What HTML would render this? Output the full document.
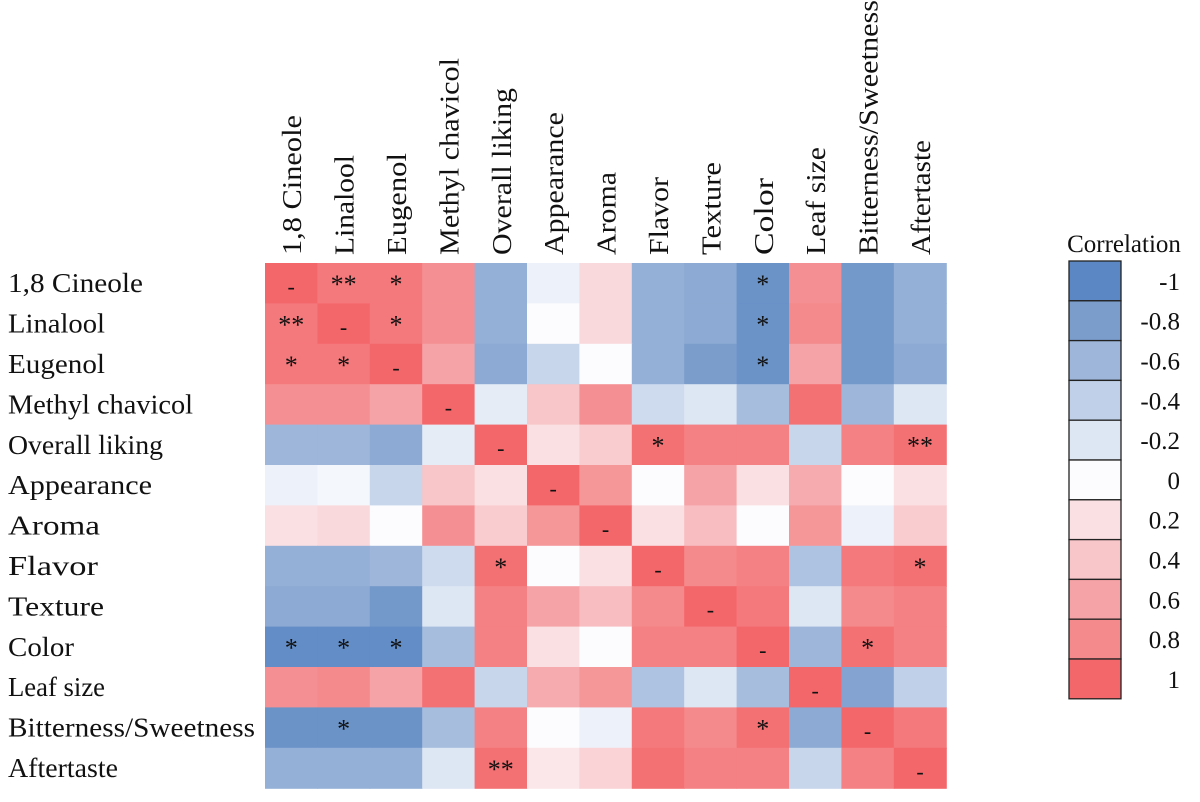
<!DOCTYPE html>
<html><head><meta charset="utf-8"><style>
html,body{margin:0;padding:0;background:#fff;width:1200px;height:802px;overflow:hidden}
svg text{font-family:"Liberation Serif",serif;fill:#111}
</style></head><body>
<svg id="chart" width="1200" height="802" xmlns="http://www.w3.org/2000/svg"></svg>
<script>
const categories=["1,8 Cineole","Linalool","Eugenol","Methyl chavicol","Overall liking","Appearance","Aroma","Flavor","Texture","Color","Leaf size","Bitterness/Sweetness","Aftertaste"];
const row0=[1,.9,.9,.75,-.65,-.1,.25,-.65,-.7,-.9,.75,-.85,-.65];
const row1=[.9,1,.9,.75,-.65,0,.25,-.65,-.7,-.9,.8,-.85,-.65];
const row2=[.9,.9,1,.6,-.7,-.35,0,-.65,-.8,-.9,.6,-.85,-.7];
const row3=[.75,.75,.6,1,-.15,.4,.75,-.3,-.2,-.55,.95,-.6,-.2];
const row4=[-.6,-.6,-.7,-.15,1,.2,.35,.95,.85,.85,-.35,.85,.95];
const row5=[-.1,-.05,-.35,.4,.2,1,.7,0,.6,.2,.55,0,.2];
const row6=[.2,.25,0,.75,.35,.7,1,.2,.45,0,.7,-.1,.35];
const row7=[-.65,-.65,-.6,-.3,.95,0,.2,1,.8,.85,-.5,.9,.95];
const row8=[-.7,-.7,-.85,-.2,.85,.6,.45,.8,1,.9,-.2,.8,.85];
const row9=[-.95,-.95,-.95,-.55,.85,.2,0,.85,.85,1,-.6,.95,.85];
const row10=[.75,.8,.6,.95,-.35,.55,.7,-.5,-.2,-.55,1,-.75,-.4];
const row11=[-.9,-.9,-.9,-.55,.85,0,-.1,.9,.8,.95,-.7,1,.9];
const row12=[-.65,-.65,-.65,-.2,.95,.15,.3,.95,.85,.85,-.35,.85,1];
const values=[row0,row1,row2,row3,row4,row5,row6,row7,row8,row9,row10,row11,row12];
const marks=[[0,0,"-"],[0,1,"**"],[0,2,"*"],[0,9,"*"],[1,0,"**"],[1,1,"-"],[1,2,"*"],[1,9,"*"],[2,0,"*"],[2,1,"*"],[2,2,"-"],[2,9,"*"],[3,3,"-"],[4,4,"-"],[4,7,"*"],[4,12,"**"],[5,5,"-"],[6,6,"-"],[7,4,"*"],[7,7,"-"],[7,12,"*"],[8,8,"-"],[9,0,"*"],[9,1,"*"],[9,2,"*"],[9,9,"-"],[9,11,"*"],[10,10,"-"],[11,1,"*"],[11,9,"*"],[11,11,"-"],[12,4,"**"],[12,12,"-"]];
const legendTicks=[-1,-0.8,-0.6,-0.4,-0.2,0,0.2,0.4,0.6,0.8,1];

const rowLabelWidths=[135,97,97,185,155,144,92,90,96,66,97,247,110];
const colLabelWidths=[140,100,102,197,167,143,83,78,93,77,108,255,115];

const stops=[[-1,[91,136,196]],[-0.8,[123,157,204]],[-0.6,[157,182,218]],[-0.4,[191,208,232]],[-0.2,[221,230,243]],[0,[252,252,254]],[0.2,[251,224,227]],[0.4,[248,197,200]],[0.6,[245,163,166]],[0.8,[244,138,140]],[1,[243,103,107]]];
function color(v){v=Math.max(-1,Math.min(1,v));for(let i=0;i<stops.length-1;i++){const a=stops[i],b=stops[i+1];if(v<=b[0]){const t=(v-a[0])/(b[0]-a[0]);const c=a[1].map((x,k)=>Math.round(x+(b[1][k]-x)*t));return `rgb(${c})`;}}return `rgb(${stops[10][1]})`;}
const X0=265,Y0=263,CW=52.4,CH=40.4;
const xs=i=>X0+i*CW, ys=i=>Y0+i*CH;
const svg=document.getElementById('chart');const NS="http://www.w3.org/2000/svg";
function el(t,a){const e=document.createElementNS(NS,t);for(const k in a)e.setAttribute(k,a[k]);svg.appendChild(e);return e;}
values.forEach((r,i)=>r.forEach((v,j)=>{
 const e=el('rect',{x:xs(j),y:ys(i),width:CW+0.6,height:CH+0.6,fill:color(v)});
 
 
}));
marks.forEach(m=>{
 const dash=m[2]==="-";
 const e=el('text',{x:xs(m[1])+CW/2,y:ys(m[0])+(dash?31:30),'text-anchor':'middle','font-size':dash?22:26});
 e.textContent=m[2];
 
 
});
categories.forEach((c,i)=>{
 const t=el('text',{x:8,y:ys(i)+CH/2+9,'font-size':27,textLength:rowLabelWidths[i],lengthAdjust:'spacingAndGlyphs'});t.textContent=c;
 
 
 const cx=xs(i)+CW/2+10;
 const u=el('text',{x:cx,y:255,'font-size':27,textLength:colLabelWidths[i],lengthAdjust:'spacingAndGlyphs',transform:`rotate(-90 ${cx} 255)`});u.textContent=c;
 
 
});
const LX=1069,LY=261,LW=52,LH=39.8;
const title=el('text',{x:1124,y:252,'text-anchor':'middle','font-size':25});title.textContent="Correlation";


legendTicks.forEach((v,i)=>{
 const r=el('rect',{x:LX,y:LY+i*LH,width:LW,height:LH,fill:color(v),stroke:'#222','stroke-width':1.3});
 
 
 const t=el('text',{x:1180,y:LY+i*LH+LH/2+9,'text-anchor':'end','font-size':25});t.textContent=String(v);
 
 
});
</script>
</body></html>
